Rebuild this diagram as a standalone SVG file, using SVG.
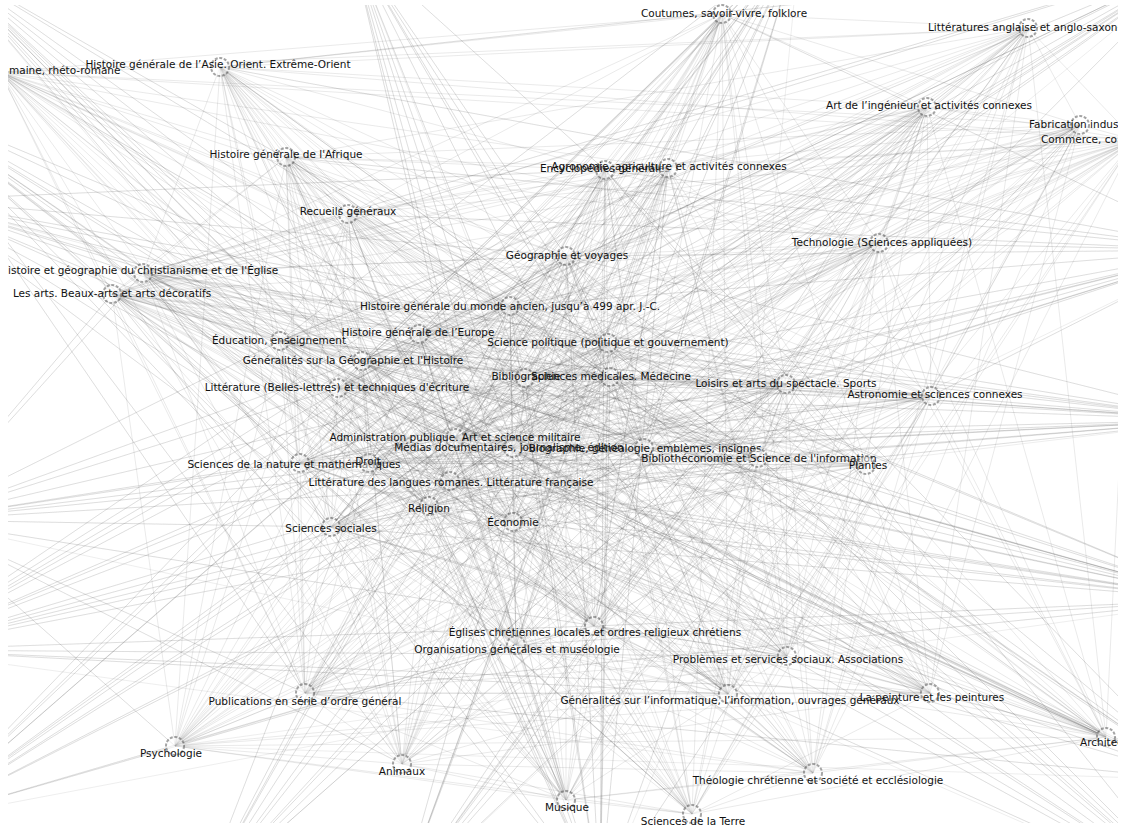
<svg xmlns="http://www.w3.org/2000/svg" width="1126" height="827" viewBox="0 0 1126 827">
<style>
.e{fill:none;stroke:#505050;stroke-opacity:.2;stroke-width:.6;stroke-linejoin:round}
.f{fill:none;stroke:#505050;stroke-opacity:.17;stroke-width:.6;stroke-linejoin:round}
.n circle{fill:#fff;fill-opacity:.5;stroke:#4a4a4a;stroke-opacity:.5;stroke-width:2;stroke-dasharray:3 1.6}
.n text{font-family:"DejaVu Sans","Liberation Sans",sans-serif;font-size:10.5px;fill:#111;text-anchor:middle}
.n text.s{text-anchor:start}
</style>
<defs>
<clipPath id="plot"><rect x="8" y="5" width="1110" height="818"/></clipPath>
<clipPath id="plotx"><rect x="8" y="0" width="1110" height="827"/></clipPath>
</defs>
<rect width="1126" height="827" fill="#fff"/>
<g id="edges" clip-path="url(#plot)">
<polyline class="e" points="722,14 1028,28 0,72 220,67 286,157 348,214 143,273 112,294 280,341 362,361 338,388 419,334 510,306 566,256 605,170 668,168 608,343 525,378 610,377 786,384 931,396 879,243 927,107 1080,125 1135,140 455,438 513,448 644,448 758,458 866,465 300,463 369,463 450,481 429,506 513,522 331,527 594,626 516,645 787,656 728,694 930,693 305,693 175,746 402,764 566,800 692,814 813,773 1106,737 722,14"/>
<polyline class="e" points="722,14 348,214 338,388 668,168 931,396 455,438 300,463 331,527 930,693 692,814 0,72 112,294 510,306 525,378 927,107 644,448 450,481 516,645 175,746 1106,737 286,157 362,361 605,170 786,384 1135,140 866,465 513,522 728,694 566,800 1028,28 143,273 419,334 608,343 879,243 513,448 369,463 594,626 305,693 813,773 220,67 280,341 566,256 610,377 1080,125 758,458 429,506 787,656 402,764 722,14"/>
<polyline class="e" points="722,14 112,294 605,170 879,243 758,458 331,527 175,746 1028,28 280,341 668,168 927,107 866,465 594,626 402,764 0,72 362,361 608,343 1080,125 300,463 516,645 566,800 220,67 338,388 525,378 1135,140 369,463 787,656 692,814 286,157 419,334 610,377 455,438 450,481 728,694 813,773 348,214 510,306 786,384 513,448 429,506 930,693 1106,737 143,273 566,256 931,396 644,448 513,522 305,693 722,14"/>
<polyline class="e" points="722,14 419,334 927,107 429,506 566,800 112,294 610,377 866,465 930,693 220,67 605,170 455,438 594,626 1106,737 338,388 879,243 450,481 402,764 143,273 525,378 758,458 728,694 0,72 566,256 1135,140 331,527 813,773 362,361 931,396 369,463 175,746 348,214 608,343 644,448 787,656 1028,28 510,306 1080,125 513,522 692,814 280,341 786,384 300,463 305,693 286,157 668,168 513,448 516,645 722,14"/>
<polyline class="e" points="722,14 566,256 513,448 728,694 286,157 525,378 300,463 402,764 280,341 879,243 513,522 1106,737 510,306 455,438 787,656 220,67 608,343 866,465 175,746 112,294 931,396 429,506 813,773 419,334 1135,140 516,645 0,72 668,168 758,458 305,693 143,273 786,384 450,481 692,814 338,388 1080,125 594,626 1028,28 605,170 644,448 930,693 348,214 610,377 369,463 566,800 362,361 927,107 331,527 722,14"/>
<polyline class="e" points="722,14 525,378 513,522 220,67 931,396 516,645 143,273 1080,125 930,693 362,361 513,448 402,764 510,306 866,465 813,773 668,168 450,481 1028,28 610,377 331,527 286,157 879,243 787,656 112,294 1135,140 305,693 338,388 644,448 566,800 566,256 300,463 1106,737 608,343 429,506 0,72 786,384 594,626 348,214 927,107 728,694 280,341 455,438 175,746 419,334 758,458 692,814 605,170 369,463 722,14"/>
<polyline class="e" points="722,14 786,384 787,656 362,361 758,458 1106,737 610,377 516,645 280,341 644,448 813,773 525,378 594,626 112,294 513,448 692,814 608,343 331,527 143,273 455,438 566,800 668,168 513,522 348,214 1135,140 402,764 605,170 429,506 286,157 1080,125 175,746 566,256 450,481 220,67 927,107 305,693 510,306 369,463 0,72 879,243 930,693 419,334 300,463 1028,28 931,396 728,694 338,388 866,465 722,14"/>
<polyline class="e" points="722,14 1080,125 813,773 879,243 566,800 786,384 175,746 525,378 930,693 668,168 787,656 566,256 594,626 419,334 513,522 362,361 450,481 112,294 300,463 348,214 758,458 220,67 513,448 1028,28 1135,140 1106,737 927,107 692,814 931,396 402,764 610,377 305,693 608,343 728,694 605,170 516,645 510,306 331,527 338,388 429,506 280,341 369,463 143,273 866,465 286,157 644,448 0,72 455,438 722,14"/>
<polyline class="e" points="722,14 220,67 143,273 362,361 510,306 668,168 610,377 879,243 1135,140 644,448 300,463 429,506 594,626 728,694 175,746 692,814 722,14"/>
<polyline class="e" points="1028,28 286,157 112,294 338,388 566,256 608,343 786,384 927,107 455,438 758,458 369,463 513,522 516,645 930,693 402,764 813,773 1028,28"/>
<polyline class="e" points="0,72 348,214 280,341 419,334 605,170 525,378 931,396 1080,125 513,448 866,465 450,481 331,527 787,656 305,693 566,800 1106,737 0,72"/>
<polyline class="e" points="722,14 362,361 610,377 644,448 594,626 692,814 143,273 668,168 1135,140 429,506 175,746 220,67 510,306 879,243 300,463 728,694 722,14"/>
<polyline class="e" points="1028,28 338,388 786,384 758,458 516,645 813,773 112,294 608,343 455,438 513,522 402,764 286,157 566,256 927,107 369,463 930,693 1028,28"/>
<polyline class="e" points="0,72 419,334 931,396 866,465 787,656 1106,737 280,341 525,378 513,448 331,527 566,800 348,214 605,170 1080,125 450,481 305,693 0,72"/>
<polyline class="e" points="722,14 668,168 300,463 692,814 510,306 644,448 175,746 362,361 1135,140 728,694 143,273 879,243 594,626 220,67 610,377 429,506 722,14"/>
<polyline class="e" points="1028,28 608,343 369,463 813,773 566,256 758,458 402,764 338,388 455,438 930,693 112,294 927,107 516,645 286,157 786,384 513,522 1028,28"/>
<polyline class="e" points="0,72 525,378 450,481 1106,737 605,170 866,465 566,800 419,334 513,448 305,693 280,341 1080,125 787,656 348,214 931,396 331,527 0,72"/>
<polyline class="e" points="722,14 879,243 175,746 668,168 594,626 362,361 300,463 220,67 1135,140 692,814 610,377 728,694 510,306 429,506 143,273 644,448 722,14"/>
<polyline class="e" points="1028,28 927,107 402,764 608,343 516,645 338,388 369,463 286,157 455,438 813,773 786,384 930,693 566,256 513,522 112,294 758,458 1028,28"/>
<polyline class="e" points="0,72 1080,125 566,800 525,378 787,656 419,334 450,481 348,214 513,448 1106,737 931,396 305,693 605,170 331,527 280,341 866,465 0,72"/>
<polyline class="e" points="722,14 0,72 286,157 143,273 280,341 338,388 510,306 605,170 608,343 610,377 931,396 927,107 1135,140 513,448 758,458 300,463 450,481 513,522 594,626 787,656 930,693 175,746 566,800 813,773 722,14"/>
<polyline class="e" points="1028,28 220,67 348,214 112,294 362,361 419,334 566,256 668,168 525,378 786,384 879,243 1080,125 455,438 644,448 866,465 369,463 429,506 331,527 516,645 728,694 305,693 402,764 692,814 1106,737 1028,28"/>
<polyline class="e" points="722,14 338,388 931,396 300,463 930,693 0,72 510,306 927,107 450,481 175,746 286,157 605,170 1135,140 513,522 566,800 143,273 608,343 513,448 594,626 813,773 280,341 610,377 758,458 787,656 722,14"/>
<polyline class="e" points="1028,28 419,334 879,243 369,463 305,693 220,67 566,256 1080,125 429,506 402,764 348,214 668,168 455,438 331,527 692,814 112,294 525,378 644,448 516,645 1106,737 362,361 786,384 866,465 728,694 1028,28"/>
<polyline class="e" points="722,14 605,170 758,458 175,746 280,341 927,107 594,626 0,72 608,343 300,463 566,800 338,388 1135,140 787,656 286,157 610,377 450,481 813,773 510,306 513,448 930,693 143,273 931,396 513,522 722,14"/>
<polyline class="e" points="1028,28 668,168 866,465 402,764 362,361 1080,125 516,645 220,67 525,378 369,463 692,814 419,334 455,438 728,694 348,214 786,384 429,506 1106,737 566,256 644,448 305,693 112,294 879,243 331,527 1028,28"/>
<polyline class="e" points="722,14 927,107 566,800 610,377 930,693 605,170 594,626 338,388 450,481 143,273 758,458 0,72 1135,140 813,773 931,396 175,746 608,343 787,656 510,306 513,522 280,341 300,463 286,157 513,448 722,14"/>
<polyline class="e" points="1028,28 1080,125 692,814 786,384 305,693 668,168 516,645 419,334 429,506 112,294 866,465 220,67 455,438 1106,737 879,243 402,764 525,378 728,694 566,256 331,527 362,361 369,463 348,214 644,448 1028,28"/>
<polyline class="f" points="-80,520 143,273 -80,520 112,294 -80,520 280,341 -80,520 338,388 -80,520 300,463 -80,520 331,527 -80,520 305,693 -80,520 175,746 -80,520 402,764 -80,520 510,306 -80,520 525,378 -80,520 786,384 -80,520 931,396 -80,520 866,465 -80,520 644,448 -80,520 787,656 -80,520 728,694"/>
<polyline class="f" points="1220,250 722,14 1220,250 220,67 1220,250 286,157 1220,250 348,214 1220,250 510,306 1220,250 566,256 1220,250 605,170 1220,250 525,378 1220,250 786,384 1220,250 931,396 1220,250 879,243 1220,250 455,438 1220,250 513,448 1220,250 300,463 1220,250 369,463 1220,250 429,506 1220,250 331,527 1220,250 305,693"/>
<polyline class="f" points="1200,900 362,361 1200,900 419,334 1200,900 510,306 1200,900 608,343 1200,900 610,377 1200,900 786,384 1200,900 513,448 1200,900 644,448 1200,900 758,458 1200,900 513,522 1200,900 594,626 1200,900 787,656 1200,900 728,694"/>
<polyline class="f" points="350,-60 566,256 350,-60 605,170 350,-60 608,343 350,-60 525,378 350,-60 610,377 350,-60 513,448 350,-60 644,448 350,-60 513,522 350,-60 594,626 350,-60 516,645 350,-60 728,694 350,-60 566,800 350,-60 692,814"/>
<polyline class="f" points="-60,-40 362,361 -60,-40 338,388 -60,-40 419,334 -60,-40 510,306 -60,-40 608,343 -60,-40 525,378 -60,-40 455,438 -60,-40 513,448 -60,-40 369,463 -60,-40 450,481 -60,-40 429,506 -60,-40 513,522 -60,-40 594,626 -60,-40 516,645"/>
<polyline class="f" points="200,900 1028,28 200,900 419,334 200,900 510,306 200,900 566,256 200,900 605,170 200,900 668,168 200,900 608,343 200,900 610,377 200,900 786,384 200,900 879,243 200,900 927,107 200,900 1080,125"/>
<polyline class="f" points="1200,-40 220,67 1200,-40 143,273 1200,-40 112,294 1200,-40 280,341 1200,-40 362,361 1200,-40 338,388 1200,-40 419,334 1200,-40 525,378 1200,-40 455,438 1200,-40 513,448 1200,-40 300,463 1200,-40 369,463 1200,-40 450,481 1200,-40 331,527 1200,-40 516,645 1200,-40 305,693"/>
<polyline class="f" points="-80,200 566,256 -80,200 605,170 -80,200 608,343 -80,200 525,378 -80,200 610,377 -80,200 455,438 -80,200 513,448 -80,200 644,448 -80,200 758,458 -80,200 513,522 -80,200 594,626 -80,200 516,645 -80,200 510,306 -80,200 419,334"/>
<polyline class="f" points="-80,820 362,361 -80,820 419,334 -80,820 510,306 -80,820 566,256 -80,820 605,170 -80,820 608,343 -80,820 525,378 -80,820 610,377 -80,820 786,384 -80,820 455,438 -80,820 513,448 -80,820 644,448 -80,820 594,626 -80,820 516,645 -80,820 787,656"/>
<polyline class="f" points="600,900 220,67 600,900 286,157 600,900 348,214 600,900 143,273 600,900 112,294 600,900 362,361 600,900 419,334 600,900 510,306 600,900 566,256 600,900 605,170 600,900 668,168 600,900 608,343 600,900 525,378 600,900 610,377 600,900 786,384 600,900 931,396 600,900 879,243"/>
<polyline class="f" points="1220,600 112,294 1220,600 280,341 1220,600 362,361 1220,600 338,388 1220,600 419,334 1220,600 510,306 1220,600 608,343 1220,600 525,378 1220,600 455,438 1220,600 513,448 1220,600 644,448 1220,600 300,463 1220,600 369,463 1220,600 450,481 1220,600 429,506 1220,600 513,522 1220,600 331,527 1220,600 594,626 1220,600 516,645 1220,600 305,693 1220,600 175,746"/>
<polyline class="f" points="800,-60 280,341 800,-60 362,361 800,-60 338,388 800,-60 419,334 800,-60 510,306 800,-60 608,343 800,-60 525,378 800,-60 455,438 800,-60 513,448 800,-60 644,448 800,-60 300,463 800,-60 369,463 800,-60 450,481 800,-60 429,506 800,-60 513,522 800,-60 331,527 800,-60 594,626 800,-60 516,645 800,-60 728,694"/>
<polyline class="f" points="1220,420 143,273 1220,420 112,294 1220,420 280,341 1220,420 362,361 1220,420 338,388 1220,420 510,306 1220,420 566,256 1220,420 608,343 1220,420 525,378 1220,420 610,377 1220,420 455,438 1220,420 513,448 1220,420 644,448 1220,420 758,458 1220,420 369,463 1220,420 450,481 1220,420 429,506 1220,420 331,527"/>
<polyline class="f" points="-100,650 510,306 -100,650 566,256 -100,650 605,170 -100,650 668,168 -100,650 608,343 -100,650 610,377 -100,650 786,384 -100,650 931,396 -100,650 879,243 -100,650 927,107 -100,650 644,448 -100,650 758,458 -100,650 866,465 -100,650 594,626 -100,650 787,656 -100,650 728,694 -100,650 930,693 -100,650 813,773"/>
<polyline class="f" points="-100,100 455,438 -100,100 513,448 -100,100 644,448 -100,100 758,458 -100,100 369,463 -100,100 450,481 -100,100 429,506 -100,100 513,522 -100,100 331,527 -100,100 594,626 -100,100 516,645 -100,100 787,656 -100,100 728,694 -100,100 305,693 -100,100 402,764 -100,100 566,800 -100,100 692,814 -100,100 300,463"/>
<polyline class="f" points="1200,780 220,67 1200,780 286,157 1200,780 348,214 1200,780 143,273 1200,780 112,294 1200,780 280,341 1200,780 362,361 1200,780 338,388 1200,780 510,306 1200,780 566,256 1200,780 605,170 1200,780 455,438 1200,780 300,463 1200,780 331,527 1200,780 305,693 1200,780 175,746"/>
<polyline class="f" points="400,900 722,14 400,900 1028,28 400,900 605,170 400,900 668,168 400,900 608,343 400,900 786,384 400,900 931,396 400,900 879,243 400,900 927,107 400,900 1080,125 400,900 758,458 400,900 866,465"/>
</g>
<g id="nodes" clip-path="url(#plotx)">
<g id="n-coutumes" class="n"><circle cx="722" cy="14" r="9"/><text x="724" y="17">Coutumes, savoir-vivre, folklore</text></g>
<g id="n-litanglaise" class="n"><circle cx="1028" cy="28" r="9"/><text class="s" x="928" y="31">Littératures anglaise et anglo-saxonn</text></g>
<g id="n-litromane-it" class="n"><text class="s" x="9" y="74">maine, rhéto-romane</text></g>
<g id="n-asie" class="n"><circle cx="220" cy="67" r="9"/><text x="218" y="68">Histoire générale de l’Asie. Orient. Extrême-Orient</text></g>
<g id="n-afrique" class="n"><circle cx="286" cy="157" r="9"/><text x="286" y="158">Histoire générale de l'Afrique</text></g>
<g id="n-recueils" class="n"><circle cx="348" cy="214" r="9"/><text x="348" y="215">Recueils généraux</text></g>
<g id="n-christianisme" class="n"><circle cx="143" cy="273" r="9"/><text class="s" x="8" y="274">istoire et géographie du christianisme et de l'Église</text></g>
<g id="n-arts" class="n"><circle cx="112" cy="294" r="9"/><text x="112" y="297">Les arts. Beaux-arts et arts décoratifs</text></g>
<g id="n-education" class="n"><circle cx="280" cy="341" r="9"/><text x="279" y="344">Éducation, enseignement</text></g>
<g id="n-gengeohist" class="n"><circle cx="362" cy="361" r="9"/><text x="353" y="364">Généralités sur la Géographie et l'Histoire</text></g>
<g id="n-litbelles" class="n"><circle cx="338" cy="388" r="9"/><text x="337" y="391">Littérature (Belles-lettres) et techniques d'écriture</text></g>
<g id="n-europe" class="n"><circle cx="419" cy="334" r="9"/><text x="418" y="336">Histoire générale de l’Europe</text></g>
<g id="n-ancien" class="n"><circle cx="510" cy="306" r="9"/><text x="510" y="310">Histoire générale du monde ancien, jusqu’à 499 apr. J.-C.</text></g>
<g id="n-geovoyages" class="n"><circle cx="566" cy="256" r="9"/><text x="567" y="259">Géographie et voyages</text></g>
<g id="n-encyclo" class="n"><circle cx="605" cy="170" r="9"/><text x="605" y="172">Encyclopédies générales</text></g>
<g id="n-agronomie" class="n"><circle cx="668" cy="168" r="9"/><text x="669" y="170">Agronomie, agriculture et activités connexes</text></g>
<g id="n-scipol" class="n"><circle cx="608" cy="343" r="9"/><text x="608" y="346">Science politique (politique et gouvernement)</text></g>
<g id="n-biblio" class="n"><circle cx="525" cy="378" r="9"/><text x="526" y="380">Bibliographie</text></g>
<g id="n-scimed" class="n"><circle cx="610" cy="377" r="9"/><text x="611" y="380">Sciences médicales. Médecine</text></g>
<g id="n-loisirs" class="n"><circle cx="786" cy="384" r="9"/><text x="786" y="387">Loisirs et arts du spectacle. Sports</text></g>
<g id="n-astro" class="n"><circle cx="931" cy="396" r="9"/><text x="935" y="398">Astronomie et sciences connexes</text></g>
<g id="n-techno" class="n"><circle cx="879" cy="243" r="9"/><text x="882" y="246">Technologie (Sciences appliquées)</text></g>
<g id="n-arting" class="n"><circle cx="927" cy="107" r="9"/><text x="929" y="109">Art de l’ingénieur et activités connexes</text></g>
<g id="n-fabrication" class="n"><circle cx="1080" cy="125" r="9"/><text class="s" x="1029" y="128">Fabrication indust</text></g>
<g id="n-commerce" class="n"><text class="s" x="1041" y="143">Commerce, co</text></g>
<g id="n-admin" class="n"><circle cx="455" cy="438" r="9"/><text x="455" y="441">Administration publique. Art et science militaire</text></g>
<g id="n-medias" class="n"><circle cx="513" cy="448" r="9"/><text x="509" y="451">Médias documentaires, journalisme, édition</text></g>
<g id="n-biographie" class="n"><circle cx="644" cy="448" r="9"/><text x="645" y="452">Biographie, généalogie, emblèmes, insignes</text></g>
<g id="n-bibliotheconomie" class="n"><circle cx="758" cy="458" r="9"/><text x="759" y="462">Bibliothéconomie et Science de l'information</text></g>
<g id="n-plantes" class="n"><circle cx="866" cy="465" r="9"/><text x="868" y="469">Plantes</text></g>
<g id="n-scinature" class="n"><circle cx="300" cy="463" r="9"/><text x="294" y="468">Sciences de la nature et mathématiques</text></g>
<g id="n-droit" class="n"><circle cx="369" cy="463" r="9"/><text x="368" y="465">Droit</text></g>
<g id="n-litromanes" class="n"><circle cx="450" cy="481" r="9"/><text x="451" y="486">Littérature des langues romanes. Littérature française</text></g>
<g id="n-religion" class="n"><circle cx="429" cy="506" r="9"/><text x="429" y="512">Religion</text></g>
<g id="n-economie" class="n"><circle cx="513" cy="522" r="9"/><text x="513" y="526">Économie</text></g>
<g id="n-scisociales" class="n"><circle cx="331" cy="527" r="9"/><text x="331" y="532">Sciences sociales</text></g>
<g id="n-eglises" class="n"><circle cx="594" cy="626" r="9"/><text x="595" y="636">Églises chrétiennes locales et ordres religieux chrétiens</text></g>
<g id="n-organisations" class="n"><circle cx="516" cy="645" r="9"/><text x="517" y="653">Organisations générales et muséologie</text></g>
<g id="n-problemes" class="n"><circle cx="787" cy="656" r="9"/><text x="788" y="663">Problèmes et services sociaux. Associations</text></g>
<g id="n-informatique" class="n"><circle cx="728" cy="694" r="9"/><text x="730" y="704">Généralités sur l’informatique, l’information, ouvrages généraux</text></g>
<g id="n-peinture" class="n"><circle cx="930" cy="693" r="9"/><text x="932" y="701">La peinture et les peintures</text></g>
<g id="n-publications" class="n"><circle cx="305" cy="693" r="9"/><text x="305" y="705">Publications en série d’ordre général</text></g>
<g id="n-psychologie" class="n"><circle cx="175" cy="746" r="9"/><text x="171" y="757">Psychologie</text></g>
<g id="n-animaux" class="n"><circle cx="402" cy="764" r="9"/><text x="402" y="775">Animaux</text></g>
<g id="n-architecture" class="n"><circle cx="1106" cy="737" r="9"/><text class="s" x="1080" y="746">Architec</text></g>
<g id="n-musique" class="n"><circle cx="566" cy="800" r="9"/><text x="567" y="811">Musique</text></g>
<g id="n-sciterre" class="n"><circle cx="692" cy="814" r="9"/><text x="693" y="825">Sciences de la Terre</text></g>
<g id="n-theologie" class="n"><circle cx="813" cy="773" r="9"/><text x="818" y="784">Théologie chrétienne et société et ecclésiologie</text></g>
</g>
</svg>
